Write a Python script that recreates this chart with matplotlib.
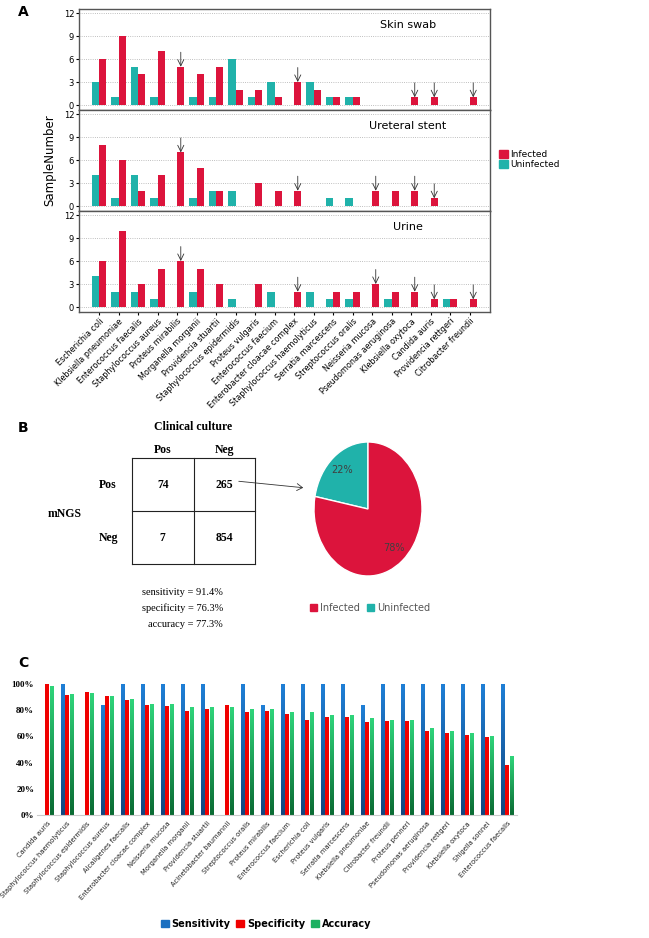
import numpy as np
import matplotlib
matplotlib.use('Agg')
from matplotlib import pyplot as plt
from matplotlib.colors import LinearSegmentedColormap
from matplotlib.patches import Patch

# ---- panel A data: sample numbers per species and sample type ----
species_a = ['Escherichia coli', 'Klebsiella pneumoniae', 'Enterococcus faecalis',
             'Staphylococcus aureus', 'Proteus mirabilis', 'Morganella morganii',
             'Providencia stuartii', 'Staphylococcus epidermidis', 'Proteus vulgaris',
             'Enterococcus faecium', 'Enterobacter cloacae complex',
             'Staphylococcus haemolyticus', 'Serratia marcescens', 'Streptococcus oralis',
             'Neisseria mucosa', 'Pseudomonas aeruginosa', 'Klebsiella oxytoca',
             'Candida auris', 'Providencia rettgeri', 'Citrobacter freundii']
skin_uninf = [3, 1, 5, 1, 0, 1, 1, 6, 1, 3, 0, 3, 1, 1, 0, 0, 0, 0, 0, 0]
skin_inf = [6, 9, 4, 7, 5, 4, 5, 2, 2, 1, 3, 2, 1, 1, 0, 0, 1, 1, 0, 1]
stent_uninf = [4, 1, 4, 1, 0, 1, 2, 2, 0, 0, 0, 0, 1, 1, 0, 0, 0, 0, 0, 0]
stent_inf = [8, 6, 2, 4, 7, 5, 2, 0, 3, 2, 2, 0, 0, 0, 2, 2, 2, 1, 0, 0]
urine_uninf = [4, 2, 2, 1, 0, 2, 0, 1, 0, 2, 0, 2, 1, 1, 0, 1, 0, 0, 1, 0]
urine_inf = [6, 10, 3, 5, 6, 5, 3, 0, 3, 0, 2, 0, 2, 2, 3, 2, 2, 1, 1, 1]
# species marked with an arrow (index into species_a)
skin_arrows = [4, 10, 16, 17, 19]
stent_arrows = [4, 10, 14, 16, 17]
urine_arrows = [4, 10, 14, 16, 17, 19]

# ---- panel B data ----
culture_labels = ['Pos', 'Neg']
confusion = [[74, 265], [7, 854]]
stats_b = ['sensitivity = 91.4%', 'specificity = 76.3%', 'accuracy = 77.3%']
pie_labels = ['Uninfected', 'Infected']
pie_values = [22, 78]

# ---- panel C data: per-species performance (%) ----
species_c = ['Candida auris', 'Staphylococcus haemolyticus', 'Staphylococcus epidermidis',
             'Staphylococcus aureus', 'Alcaligenes faecalis', 'Enterobacter cloacae complex',
             'Neisseria mucosa', 'Morganella morganii', 'Providencia stuartii',
             'Acinetobacter baumannii', 'Streptococcus oralis', 'Proteus mirabilis',
             'Enterococcus faecium', 'Escherichia coli', 'Proteus vulgaris',
             'Serratia marcescens', 'Klebsiella pneumoniae', 'Citrobacter freundii',
             'Proteus penneri', 'Pseudomonas aeruginosa', 'Providencia rettgeri',
             'Klebsiella oxytoca', 'Shigella sonnei', 'Enterococcus faecalis']
sensitivity = [np.nan, 100, np.nan, 83.3, 100, 100, 100, 100, 100, np.nan, 100, 83.3,
               100, 100, 100, 100, 83.3, 100, 100, 100, 100, 100, 100, 100]
specificity = [100, 91.9, 94.1, 91.1, 88.0, 83.7, 83.2, 79.1, 80.9, 83.7, 78.6, 79.6,
               77.4, 72.5, 74.8, 74.8, 71.2, 71.8, 71.8, 64.1, 62.6, 61.1, 59.8, 38.2]
accuracy = [98.2, 92.1, 92.4, 90.3, 88.3, 84.2, 84.2, 82.2, 82.2, 82.2, 80.2, 80.2,
            78.1, 78.1, 76.3, 76.3, 74.0, 72.3, 72.3, 66.4, 64.1, 62.3, 60.1, 44.5]

RED = '#DC143C'
TEAL = '#20B2AA'
W, H = 649, 938


def px_axes(fig, x0, y0, x1, y1):
    """ Axes placed by pixel box (top-left origin). """
    return fig.add_axes([x0 / W, 1 - y1 / H, (x1 - x0) / W, (y1 - y0) / H])


def draw_panel_a(fig):
    x = np.arange(len(species_a))
    rows = [('Skin swab', skin_uninf, skin_inf, skin_arrows, 9, 110),
            ('Ureteral stent', stent_uninf, stent_inf, stent_arrows, 110, 211),
            ('Urine', urine_uninf, urine_inf, urine_arrows, 211, 312)]
    for i, (title, un, inf, arrows, top, bot) in enumerate(rows):
        ax = px_axes(fig, 79, top, 490, bot)
        ax.bar(x - 0.19, un, 0.38, color=TEAL, lw=0, zorder=2)
        ax.bar(x + 0.19, inf, 0.38, color=RED, lw=0, zorder=2)
        for k in arrows:
            ax.annotate('', xy=(x[k] + 0.19, inf[k]), xytext=(x[k] + 0.19, inf[k] + 1.9),
                        arrowprops=dict(arrowstyle='->,head_length=0.45,head_width=0.22',
                                        color='#333', lw=0.6, shrinkA=0, shrinkB=0))
        ax.set_xlim(-1.03, 20.05)
        ax.set_ylim(-0.65, 12.55)
        ax.set_yticks([0, 3, 6, 9, 12])
        ax.yaxis.grid(True, ls=':', color='#aaa', lw=0.6)
        ax.set_axisbelow(True)
        ax.text(0.80, 0.84, title, transform=ax.transAxes, ha='center', va='center', fontsize=8)
        for s in ax.spines.values():
            s.set_color('#555')
            s.set_linewidth(1)
        ax.tick_params(axis='y', labelsize=6, length=2, pad=1.5)
        if i < 2:
            ax.set_xticks([])
        else:
            ax.set_xticks(x)
            ax.set_xticklabels(species_a, rotation=45, ha='right', rotation_mode='anchor', fontsize=5.8)
            ax.tick_params(axis='x', length=2, pad=1.5)

    fig.text(50 / W, 1 - 160 / H, 'SampleNumber', rotation=90, fontsize=8.5, ha='center', va='center')
    fig.legend(handles=[Patch(color=RED, label='Infected'), Patch(color=TEAL, label='Uninfected')],
               loc='upper left', bbox_to_anchor=(499 / W, 1 - 150 / H), frameon=False, fontsize=6.5,
               handlelength=1.0, handleheight=1.0, handletextpad=0.2, labelspacing=0.1,
               borderpad=0, borderaxespad=0)


def draw_panel_b(fig):
    serif = 'Liberation Serif'
    ax = px_axes(fig, 132, 458, 255, 564)
    ax.set_xlim(0, 2)
    ax.set_ylim(2, 0)
    ax.axis('off')
    for v in [0, 1, 2]:
        ax.plot([v, v], [0, 2], color='#222', lw=0.8, clip_on=False)
        ax.plot([0, 2], [v, v], color='#222', lw=0.8, clip_on=False)
    for r in range(2):
        for c in range(2):
            ax.text(c + 0.5, r + 0.5, str(confusion[r][c]), ha='center', va='center',
                    family=serif, weight='bold', fontsize=8.5)
        ax.text(r + 0.5, -0.15, culture_labels[r], ha='center', va='center',
                family=serif, weight='bold', fontsize=8.5)
        ax.text(-0.39, r + 0.5, culture_labels[r], ha='center', va='center',
                family=serif, weight='bold', fontsize=8.5)
    ax.text(1.0, -0.58, 'Clinical culture', ha='center', va='center', family=serif, weight='bold', fontsize=8.5)
    ax.text(-1.1, 1.05, 'mNGS', ha='center', va='center', family=serif, weight='bold', fontsize=8.5)
    for j, s in enumerate(stats_b):
        ax.text(1.48, 2.53 + 0.31 * j, s, ha='right', va='center', family=serif, fontsize=7.5)

    # arrow from false-positive cell to pie
    fig.add_artist(matplotlib.patches.FancyArrowPatch(
        (236 / W, 1 - 481 / H), (306 / W, 1 - 488 / H), transform=fig.transFigure,
        arrowstyle='->,head_length=4,head_width=2.5', color='#333', lw=0.6))

    axp = px_axes(fig, 314, 442, 422, 576)
    axp.pie(pie_values, colors=[TEAL, RED], startangle=90, autopct='%d%%',
            pctdistance=0.75, wedgeprops=dict(edgecolor='white', lw=1),
            textprops=dict(color='#404040', fontsize=7))
    axp.set_aspect('auto')
    axp.set_xlim(-1, 1)
    axp.set_ylim(-1, 1)
    fig.legend(handles=[Patch(color=RED, label='Infected'), Patch(color=TEAL, label='Uninfected')],
               loc='center', bbox_to_anchor=(370 / W, 1 - 608 / H), ncol=2, frameon=False, fontsize=7,
               labelcolor='#555', handlelength=0.7, handleheight=0.7, handletextpad=0.3,
               columnspacing=0.8, borderpad=0)


def gradient_bars(ax, xs, heights, width, cmap):
    grad = np.linspace(0, 1, 64).reshape(-1, 1)
    for xv, h in zip(xs, heights):
        if np.isnan(h):
            continue
        ax.imshow(grad, extent=[xv - width / 2, xv + width / 2, 0, h], origin='lower',
                  aspect='auto', cmap=cmap, zorder=2)


def draw_panel_c(fig):
    ax = px_axes(fig, 37, 684, 517, 815)
    xc = np.arange(len(species_c))
    w = 0.16
    blue_cm = LinearSegmentedColormap.from_list('b', ['#12477f', '#1f7fd6'])
    green_cm = LinearSegmentedColormap.from_list('g', ['#0b6b33', '#2fd47a'])
    gradient_bars(ax, xc - 0.24, np.array(sensitivity), w, blue_cm)
    ax.bar(xc, specificity, w, color='#f00000', lw=0, zorder=2)
    gradient_bars(ax, xc + 0.22, np.array(accuracy), w, green_cm)
    ax.set_xlim(-0.5, 23.5)
    ax.set_ylim(0, 100)
    ax.set_yticks(np.arange(0, 101, 20))
    ax.set_yticklabels([f'{v}%' for v in range(0, 101, 20)], family='Liberation Serif',
                       weight='bold', fontsize=6.5)
    ax.set_xticks(xc)
    ax.set_xticklabels(species_c, rotation=48, ha='right', rotation_mode='anchor', fontsize=4.9, color='#222')
    ax.tick_params(axis='y', length=0, pad=2)
    ax.tick_params(axis='x', length=0, pad=4)
    for s in ['top', 'right', 'left']:
        ax.spines[s].set_visible(False)
    ax.spines['bottom'].set_color('#ccc')

    fig.legend(handles=[Patch(color='#1a6fc0', label='Sensitivity'),
                        Patch(color='#f00000', label='Specificity'),
                        Patch(color='#1cb060', label='Accuracy')],
               loc='center', bbox_to_anchor=(266 / W, 1 - 924 / H), ncol=3, frameon=False,
               prop=dict(weight='bold', size=7), handlelength=0.8, handleheight=0.8,
               handletextpad=0.3, columnspacing=0.6, borderpad=0)


def main():
    fig = plt.figure(figsize=(W / 100, H / 100), dpi=100)
    draw_panel_a(fig)
    draw_panel_b(fig)
    draw_panel_c(fig)
    for lbl, y in [('A', 12), ('B', 428), ('C', 663)]:
        fig.text(18 / W, 1 - y / H, lbl, fontsize=10, weight='bold', va='center')
    fig.savefig('out.png', dpi=100)


if __name__ == '__main__':
    main()
